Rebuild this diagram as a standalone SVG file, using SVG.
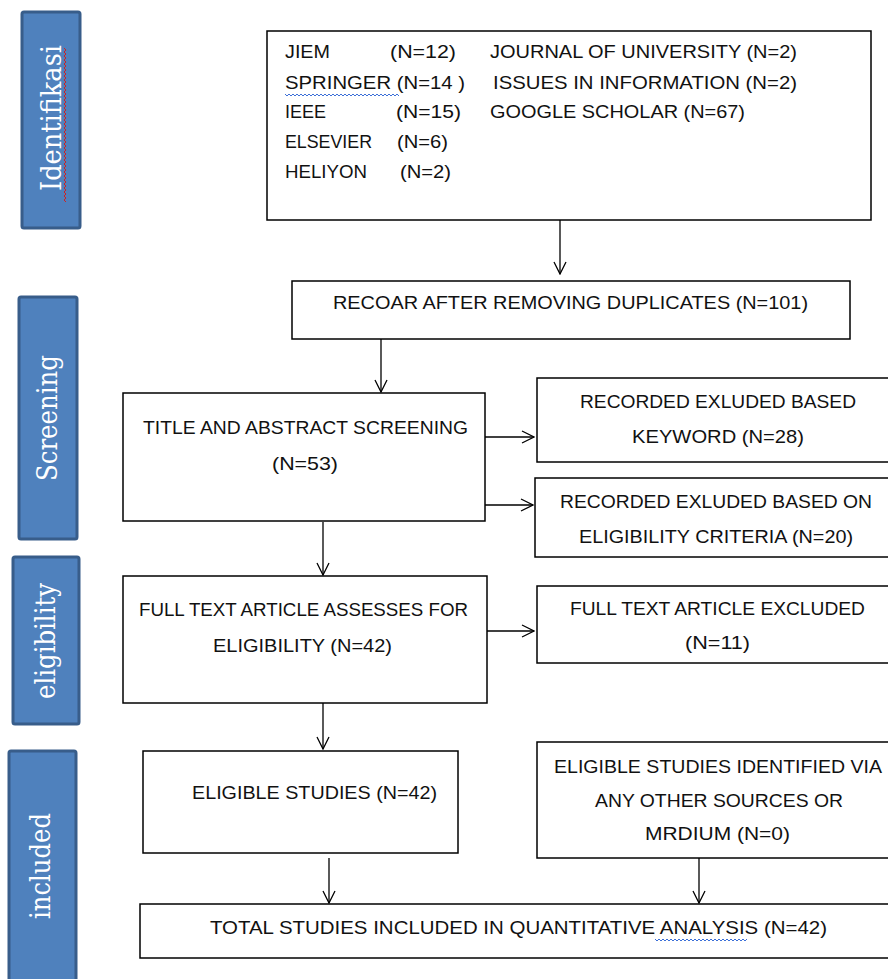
<svg xmlns="http://www.w3.org/2000/svg" width="888" height="979" viewBox="0 0 888 979">
<defs>
<marker id="arr" viewBox="0 0 14 14" refX="13" refY="7" markerWidth="14" markerHeight="14" markerUnits="userSpaceOnUse" orient="auto">
<path d="M1,1 L13,7 L1,13" fill="none" stroke="#000" stroke-width="1.3"/>
</marker>
<style>
.box{fill:#fff;stroke:#000;stroke-width:1.5}
.bar{fill:#4F81BD;stroke:#385D8A;stroke-width:3}
.bt{font-family:"DejaVu Serif","Liberation Serif",serif;font-size:27px;fill:#fff;text-anchor:middle}
.t{font-family:"Liberation Sans",Arial,sans-serif;font-size:19px;fill:#111}
.ln{fill:none;stroke:#000;stroke-width:1.3}
.wb{fill:none;stroke:#3B6FD8;stroke-width:1}
.wr{fill:none;stroke:#D02020;stroke-width:1}
</style>
</defs>
<rect width="888" height="979" fill="#fff"/>

<g id="bar-identifikasi">
<rect class="bar" x="22" y="12" width="58" height="216" rx="2"/>
<text class="bt" transform="translate(61,118) rotate(-90)" textLength="146" lengthAdjust="spacingAndGlyphs">Identifikasi</text>
<path class="wr" d="M64,48 l2,2 l-2,2 l2,2 l-2,2 l2,2 l-2,2 l2,2 l-2,2 l2,2 l-2,2 l2,2 l-2,2 l2,2 l-2,2 l2,2 l-2,2 l2,2 l-2,2 l2,2 l-2,2 l2,2 l-2,2 l2,2 l-2,2 l2,2 l-2,2 l2,2 l-2,2 l2,2 l-2,2 l2,2 l-2,2 l2,2 l-2,2 l2,2 l-2,2 l2,2 l-2,2 l2,2 l-2,2 l2,2 l-2,2 l2,2 l-2,2 l2,2 l-2,2 l2,2 l-2,2 l2,2 l-2,2 l2,2 l-2,2 l2,2 l-2,2 l2,2 l-2,2 l2,2 l-2,2 l2,2 l-2,2 l2,2 l-2,2 l2,2 l-2,2 l2,2 l-2,2 l2,2 l-2,2 l2,2 l-2,2 l2,2 l-2,2 l2,2 l-2,2 l2,2 l-2,2 l2,2"/>
</g>
<g id="bar-screening">
<rect class="bar" x="19" y="297" width="58" height="242" rx="2"/>
<text class="bt" transform="translate(57,418) rotate(-90)" textLength="126" lengthAdjust="spacingAndGlyphs">Screening</text>
</g>
<g id="bar-eligibility">
<rect class="bar" x="13" y="557" width="66" height="167" rx="2"/>
<text class="bt" transform="translate(55,641) rotate(-90)" textLength="116" lengthAdjust="spacingAndGlyphs">eligibility</text>
</g>
<g id="bar-included">
<rect class="bar" x="9" y="751" width="67" height="240" rx="2"/>
<text class="bt" transform="translate(50,866) rotate(-90)" textLength="106" lengthAdjust="spacingAndGlyphs">included</text>
</g>

<g id="connectors">
<line class="ln" x1="560" y1="220" x2="560" y2="274" marker-end="url(#arr)"/>
<line class="ln" x1="381" y1="339" x2="381" y2="392" marker-end="url(#arr)"/>
<line class="ln" x1="485" y1="437" x2="534" y2="437" marker-end="url(#arr)"/>
<line class="ln" x1="485" y1="505" x2="533" y2="505" marker-end="url(#arr)"/>
<line class="ln" x1="323" y1="522" x2="323" y2="575" marker-end="url(#arr)"/>
<line class="ln" x1="487" y1="631" x2="534" y2="631" marker-end="url(#arr)"/>
<line class="ln" x1="323" y1="703" x2="323" y2="749" marker-end="url(#arr)"/>
<line class="ln" x1="329" y1="858" x2="329" y2="903" marker-end="url(#arr)"/>
<line class="ln" x1="699" y1="858" x2="699" y2="903" marker-end="url(#arr)"/>
</g>

<g id="sources">
<rect class="box" x="267" y="31" width="604" height="189"/>
<text class="t" x="285" y="58" textLength="45" lengthAdjust="spacingAndGlyphs">JIEM</text>
<text class="t" x="390" y="58" textLength="66" lengthAdjust="spacingAndGlyphs">(N=12)</text>
<text class="t" x="490" y="58" textLength="307" lengthAdjust="spacingAndGlyphs">JOURNAL OF UNIVERSITY (N=2)</text>
<text class="t" x="285" y="89" textLength="180" lengthAdjust="spacingAndGlyphs">SPRINGER  (N=14 )</text>
<text class="t" x="493" y="89" textLength="304" lengthAdjust="spacingAndGlyphs">ISSUES IN INFORMATION (N=2)</text>
<text class="t" x="285" y="118" textLength="41" lengthAdjust="spacingAndGlyphs">IEEE</text>
<text class="t" x="396" y="118" textLength="65" lengthAdjust="spacingAndGlyphs">(N=15)</text>
<text class="t" x="490" y="118" textLength="255" lengthAdjust="spacingAndGlyphs">GOOGLE SCHOLAR (N=67)</text>
<text class="t" x="285" y="148" textLength="87" lengthAdjust="spacingAndGlyphs">ELSEVIER</text>
<text class="t" x="397" y="148" textLength="51" lengthAdjust="spacingAndGlyphs">(N=6)</text>
<text class="t" x="285" y="178" textLength="82" lengthAdjust="spacingAndGlyphs">HELIYON</text>
<text class="t" x="400" y="178" textLength="51" lengthAdjust="spacingAndGlyphs">(N=2)</text>
<path class="wb" d="M285,94 l2,2 l2,-2 l2,2 l2,-2 l2,2 l2,-2 l2,2 l2,-2 l2,2 l2,-2 l2,2 l2,-2 l2,2 l2,-2 l2,2 l2,-2 l2,2 l2,-2 l2,2 l2,-2 l2,2 l2,-2 l2,2 l2,-2 l2,2 l2,-2 l2,2 l2,-2 l2,2 l2,-2 l2,2 l2,-2 l2,2 l2,-2 l2,2 l2,-2 l2,2 l2,-2 l2,2 l2,-2 l2,2 l2,-2 l2,2 l2,-2 l2,2 l2,-2 l2,2 l2,-2 l2,2 l2,-2 l2,2 l2,-2 l2,2 l2,-2 l2,2 l2,-2 l2,2"/>
</g>

<g id="recoar">
<rect class="box" x="292" y="281" width="558" height="58"/>
<text class="t" x="333" y="309" textLength="475" lengthAdjust="spacingAndGlyphs">RECOAR AFTER REMOVING DUPLICATES (N=101)</text>
</g>

<g id="title-screening">
<rect class="box" x="123" y="393" width="362" height="128"/>
<text class="t" x="143" y="434" textLength="325" lengthAdjust="spacingAndGlyphs">TITLE AND ABSTRACT SCREENING</text>
<text class="t" x="272" y="470" textLength="66" lengthAdjust="spacingAndGlyphs">(N=53)</text>
</g>

<g id="excluded-keyword">
<rect class="box" x="537" y="378" width="360" height="84"/>
<text class="t" x="580" y="408" textLength="276" lengthAdjust="spacingAndGlyphs">RECORDED EXLUDED BASED</text>
<text class="t" x="632" y="443" textLength="172" lengthAdjust="spacingAndGlyphs">KEYWORD (N=28)</text>
</g>

<g id="excluded-criteria">
<rect class="box" x="535" y="478" width="362" height="79"/>
<text class="t" x="560" y="508" textLength="312" lengthAdjust="spacingAndGlyphs">RECORDED EXLUDED BASED ON</text>
<text class="t" x="579" y="543" textLength="274" lengthAdjust="spacingAndGlyphs">ELIGIBILITY CRITERIA (N=20)</text>
</g>

<g id="full-text">
<rect class="box" x="123" y="576" width="364" height="127"/>
<text class="t" x="139" y="616" textLength="329" lengthAdjust="spacingAndGlyphs">FULL TEXT ARTICLE ASSESSES FOR</text>
<text class="t" x="213" y="652" textLength="179" lengthAdjust="spacingAndGlyphs">ELIGIBILITY (N=42)</text>
</g>

<g id="full-text-excluded">
<rect class="box" x="537" y="586" width="360" height="77"/>
<text class="t" x="570" y="615" textLength="295" lengthAdjust="spacingAndGlyphs">FULL TEXT ARTICLE EXCLUDED</text>
<text class="t" x="685" y="649" textLength="65" lengthAdjust="spacingAndGlyphs">(N=11)</text>
</g>

<g id="eligible-studies">
<rect class="box" x="143" y="751" width="315" height="102"/>
<text class="t" x="192" y="799" textLength="245" lengthAdjust="spacingAndGlyphs">ELIGIBLE STUDIES (N=42)</text>
</g>

<g id="other-sources">
<rect class="box" x="537" y="742" width="360" height="116"/>
<text class="t" x="554" y="773" textLength="328" lengthAdjust="spacingAndGlyphs">ELIGIBLE STUDIES IDENTIFIED VIA</text>
<text class="t" x="595" y="807" textLength="248" lengthAdjust="spacingAndGlyphs">ANY OTHER SOURCES OR</text>
<text class="t" x="645" y="840" textLength="145" lengthAdjust="spacingAndGlyphs">MRDIUM (N=0)</text>
</g>

<g id="total">
<rect class="box" x="140" y="904" width="757" height="54"/>
<text class="t" x="210" y="934" textLength="617" lengthAdjust="spacingAndGlyphs">TOTAL STUDIES INCLUDED IN QUANTITATIVE ANALYSIS  (N=42)</text>
<path class="wb" d="M655,939 l2,2 l2,-2 l2,2 l2,-2 l2,2 l2,-2 l2,2 l2,-2 l2,2 l2,-2 l2,2 l2,-2 l2,2 l2,-2 l2,2 l2,-2 l2,2 l2,-2 l2,2 l2,-2 l2,2 l2,-2 l2,2 l2,-2 l2,2 l2,-2 l2,2 l2,-2 l2,2 l2,-2 l2,2 l2,-2 l2,2 l2,-2 l2,2 l2,-2 l2,2 l2,-2 l2,2 l2,-2 l2,2 l2,-2 l2,2 l2,-2 l2,2 l2,-2"/>
</g>
</svg>
